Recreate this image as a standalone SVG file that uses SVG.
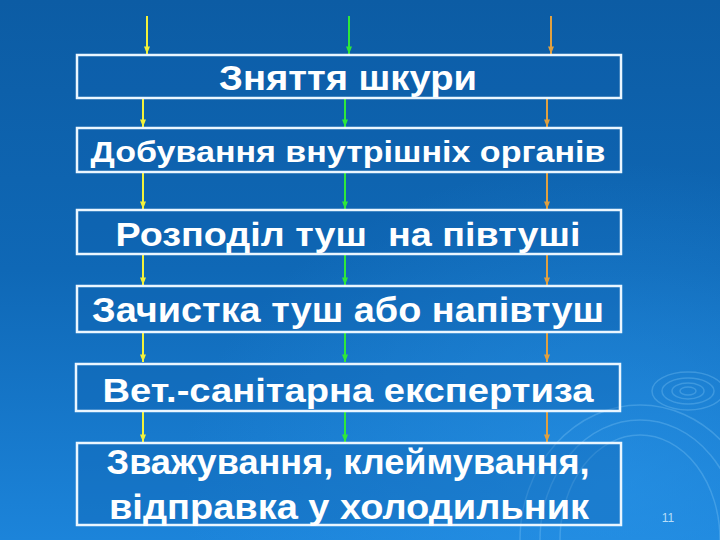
<svg xmlns="http://www.w3.org/2000/svg" width="720" height="540" viewBox="0 0 720 540">
<defs>
<linearGradient id="bg" x1="0" y1="0" x2="0" y2="1">
<stop offset="0" stop-color="#0C5CA4"/>
<stop offset="0.5" stop-color="#0F68B6"/>
<stop offset="1" stop-color="#1C84DA"/>
</linearGradient>
<radialGradient id="glow" cx="0.85" cy="0.9" r="0.6">
<stop offset="0" stop-color="#2A96EA" stop-opacity="0.6"/>
<stop offset="1" stop-color="#2A96EA" stop-opacity="0"/>
</radialGradient>
<marker id="hy" viewBox="0 0 10 8" refX="10" refY="4" markerWidth="9" markerHeight="6" orient="auto" markerUnits="userSpaceOnUse"><path d="M0,0 L10,4 L0,8 Z" fill="#F2F23A"/></marker>
<marker id="hg" viewBox="0 0 10 8" refX="10" refY="4" markerWidth="9" markerHeight="6" orient="auto" markerUnits="userSpaceOnUse"><path d="M0,0 L10,4 L0,8 Z" fill="#2EE83A"/></marker>
<marker id="ho" viewBox="0 0 10 8" refX="10" refY="4" markerWidth="9" markerHeight="6" orient="auto" markerUnits="userSpaceOnUse"><path d="M0,0 L10,4 L0,8 Z" fill="#E0A040"/></marker>
</defs>
<style>
.box{fill:#0E62AE;fill-opacity:0.35;stroke:#EAF6FF;stroke-width:2.5}
.t{font-family:"Liberation Sans",Arial,sans-serif;font-weight:bold;fill:#FFFFFF;text-anchor:middle}
.y{stroke:#F2F23A;stroke-width:2;marker-end:url(#hy)}
.g{stroke:#2EE83A;stroke-width:2;marker-end:url(#hg)}
.o{stroke:#E0A040;stroke-width:2;marker-end:url(#ho)}
.rip{fill:none;stroke:#7CC4F4;stroke-opacity:0.35;stroke-width:1.5}
</style>
<rect width="720" height="540" fill="url(#bg)"/>
<rect width="720" height="540" fill="url(#glow)"/>
<g id="ripples">
<ellipse class="rip" cx="688" cy="391" rx="8" ry="4"/>
<ellipse class="rip" cx="688" cy="391" rx="16" ry="8"/>
<ellipse class="rip" cx="688" cy="391" rx="26" ry="13"/>
<ellipse class="rip" cx="688" cy="391" rx="36" ry="19" stroke-opacity="0.2"/>
<ellipse class="rip" cx="640" cy="540" rx="80" ry="105" stroke-opacity="0.2"/>
<ellipse class="rip" cx="640" cy="540" rx="100" ry="120" stroke-opacity="0.18"/>
<ellipse class="rip" cx="640" cy="540" rx="120" ry="135" stroke-opacity="0.14"/>
</g>
<g id="connectors">
<line class="y" x1="147" y1="16" x2="147" y2="54"/>
<line class="g" x1="349" y1="16" x2="349" y2="54"/>
<line class="o" x1="551" y1="16" x2="551" y2="54"/>
<line class="y" x1="143" y1="99" x2="143" y2="127"/>
<line class="g" x1="345" y1="99" x2="345" y2="127"/>
<line class="o" x1="547" y1="99" x2="547" y2="127"/>
<line class="y" x1="143" y1="173" x2="143" y2="209"/>
<line class="g" x1="345" y1="173" x2="345" y2="209"/>
<line class="o" x1="547" y1="173" x2="547" y2="209"/>
<line class="y" x1="143" y1="255" x2="143" y2="285"/>
<line class="g" x1="345" y1="255" x2="345" y2="285"/>
<line class="o" x1="547" y1="255" x2="547" y2="285"/>
<line class="y" x1="143" y1="333" x2="143" y2="362"/>
<line class="g" x1="345" y1="333" x2="345" y2="362"/>
<line class="o" x1="547" y1="333" x2="547" y2="362"/>
<line class="y" x1="143" y1="412" x2="143" y2="442"/>
<line class="g" x1="345" y1="412" x2="345" y2="442"/>
<line class="o" x1="547" y1="412" x2="547" y2="442"/>
</g>
<g id="n1"><rect class="box" x="77" y="55" width="544" height="43"/><text class="t" x="348" y="90" font-size="35" textLength="258" lengthAdjust="spacingAndGlyphs">Зняття шкури</text></g>
<g id="n2"><rect class="box" x="77" y="128" width="544" height="44"/><text class="t" x="348" y="162" font-size="29" textLength="515" lengthAdjust="spacingAndGlyphs">Добування внутрішніх органів</text></g>
<g id="n3"><rect class="box" x="77" y="210" width="544" height="44"/><text class="t" x="348" y="246" font-size="34" textLength="465" lengthAdjust="spacingAndGlyphs" xml:space="preserve">Розподіл туш  на півтуші</text></g>
<g id="n4"><rect class="box" x="77" y="286" width="544" height="46"/><text class="t" x="348" y="322" font-size="35" textLength="512" lengthAdjust="spacingAndGlyphs">Зачистка туш або напівтуш</text></g>
<g id="n5"><rect class="box" x="76" y="364" width="544" height="47"/><text class="t" x="348" y="402" font-size="34" textLength="491" lengthAdjust="spacingAndGlyphs">Вет.-санітарна експертиза</text></g>
<g id="n6"><rect class="box" x="77" y="443" width="544" height="82"/><text class="t" x="348" y="474" font-size="35" textLength="483" lengthAdjust="spacingAndGlyphs">Зважування, клеймування,</text><text class="t" x="349" y="519" font-size="35" textLength="480" lengthAdjust="spacingAndGlyphs">відправка у холодильник</text></g>
<text x="668" y="522" font-family="Liberation Sans,Arial,sans-serif" font-size="12" fill="#B8DDF8" text-anchor="middle">11</text>
</svg>
